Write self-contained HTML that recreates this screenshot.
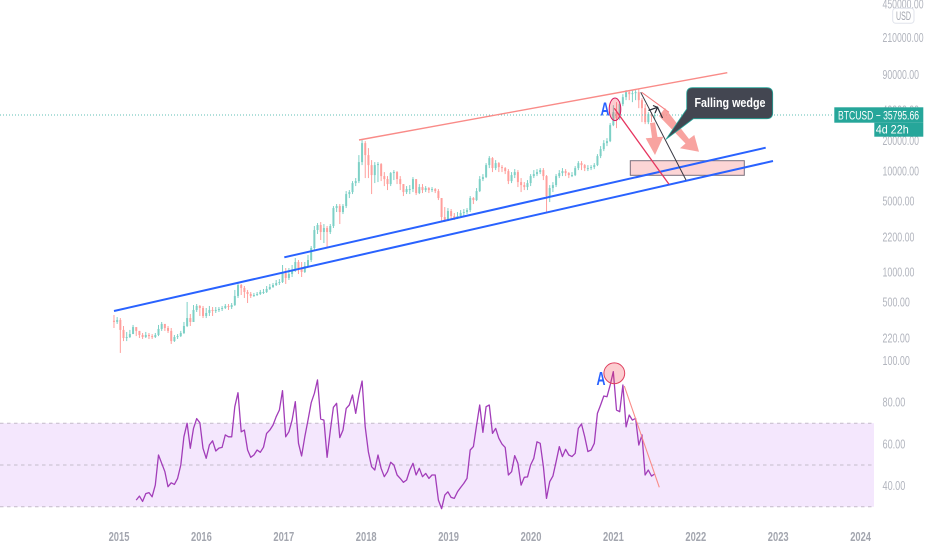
<!DOCTYPE html>
<html lang="en">
<head>
<meta charset="utf-8">
<title>BTCUSD chart</title>
<style>
html,body{margin:0;padding:0;background:#fff;width:932px;height:550px;overflow:hidden}
svg{display:block;font-family:"Liberation Sans",sans-serif;filter:blur(.35px)}
</style>
</head>
<body>
<svg id="chart" width="932" height="550" viewBox="0 0 932 550" xmlns="http://www.w3.org/2000/svg">
  <rect x="0" y="0" width="932" height="550" fill="#fff"/>
  <g id="rsi-bg"></g>
  <g id="candles"></g>
  <line x1="0" y1="115" x2="834" y2="115" stroke="#5fbfb4" stroke-width="1" stroke-dasharray="1 2"/>
  <g>
    <line x1="359" y1="140" x2="727.3" y2="72.7" stroke="#f98b88" stroke-width="1.4"/>
    <rect x="630.3" y="160.7" width="114" height="14.6" fill="#fcd5d5" stroke="#7a6f7c" stroke-width="1"/>
    <line x1="114" y1="311" x2="773" y2="161" stroke="#2962ff" stroke-width="2"/>
    <line x1="284.3" y1="257.3" x2="765.7" y2="147.7" stroke="#2962ff" stroke-width="2"/>
    <ellipse cx="615" cy="109.3" rx="5.8" ry="11.3" fill="#f23645" fill-opacity=".25" stroke="#d81b60" stroke-width="1"/>
    <line x1="614.3" y1="108.3" x2="669" y2="184.3" stroke="#e6355f" stroke-width="1.3"/>
    <line x1="640.7" y1="92.3" x2="686" y2="180" stroke="#3a3a44" stroke-width="1"/>
    <line x1="641.7" y1="92.3" x2="669" y2="112.3" stroke="#f77c80" stroke-width="1"/>
    <polygon points="650,123 655,122.5 657.5,137 663.3,136.7 655,155 645.7,138.3 652,137.8" fill="#f7938f" fill-opacity=".85"/>
    <polygon points="659,116 665,108 689,139 694.3,135 699,151.7 680,148.3 685.5,143.5" fill="#f7938f" fill-opacity=".85"/>
    <polyline points="648.5,110.5 657.5,107.3 662.5,118" fill="none" stroke="#2a2e39" stroke-width="1.2"/>
    <polyline points="653,105.5 657.5,107.3 655,113" fill="none" stroke="#2a2e39" stroke-width="1.2"/>
    <text x="600.5" y="115.5" font-size="18" font-weight="700" fill="#2962ff" textLength="9" lengthAdjust="spacingAndGlyphs">A</text>
    <path d="M692.7 87.7H766.7Q772.7 87.7 772.7 93.7V112.7Q772.7 118.7 766.7 118.7H693.5L666 139.3L686.7 109V93.7Q686.7 87.7 692.7 87.7Z" fill="#434651" stroke="#26a69a" stroke-width=".8"/>
    <text x="694.5" y="106.8" font-size="12.5" font-weight="700" fill="#fff" textLength="71" lengthAdjust="spacingAndGlyphs">Falling wedge</text>
  </g>
  <g id="rsi-series"></g>
  <g>
    <line x1="624.3" y1="386" x2="659.3" y2="487.3" stroke="#f98b88" stroke-width="1.1"/>
    <circle cx="614.3" cy="373.3" r="10.4" fill="#f23645" fill-opacity=".25" stroke="#e0405f" stroke-width="1"/>
    <text x="596.5" y="384.8" font-size="18" font-weight="700" fill="#2962ff" textLength="9" lengthAdjust="spacingAndGlyphs">A</text>
  </g>
  <g id="price-axis"></g>
  <g id="rsi-axis"></g>
  <g id="time-axis"></g>
  <g>
    <rect x="892.7" y="8.3" width="21.3" height="15" rx="3" fill="#fff" stroke="#e0e3eb"/>
    <text x="896" y="20" font-size="11.5" fill="#a3a6af" textLength="15" lengthAdjust="spacingAndGlyphs">USD</text>
  </g>
  <g>
    <rect x="834.3" y="107.3" width="89" height="15.4" fill="#26a69a"/>
    <rect x="874.3" y="122.7" width="49" height="14" fill="#26a69a"/>
    <text x="838" y="119.3" font-size="12" fill="#fff" textLength="81" lengthAdjust="spacingAndGlyphs">BTCUSD − 35795.66</text>
    <text x="875.7" y="133.5" font-size="12" fill="#fff" textLength="33" lengthAdjust="spacingAndGlyphs">4d 22h</text>
  </g>
</svg>
<script>
const closes = [320,335,267,222,227,243,285,261,238,227,238,232,227,238,273,306,279,261,207,227,232,249,292,350,320,421,461,440,367,393,421,411,421,430,440,461,450,471,579,744,695,634,606,579,592,606,634,634,679,711,744,778,796,977,872,955,1046,1256,1095,1000,1146,1314,1728,2603,2918,2487,2725,2487,2852,4297,4497,3923,4497,5911,6186,7593,7947,12251,18885,14370,11440,9111,11440,11706,8906,8318,7423,9535,9756,8318,7423,6186,6624,6624,8318,6047,6932,6475,6776,6475,6624,6329,5396,3501,3196,4014,3581,3422,3581,3835,3923,4106,5396,5156,6329,8318,8705,11440,13420,10686,11975,10930,10686,9980,7947,9111,9756,7769,7255,6932,7593,8906,9321,9756,10210,8906,5648,6776,7255,8906,9535,9980,9535,9111,9111,10686,11975,11440,10686,10686,10930,11440,14045,16470,18885,19765,28460,38260,33370,45910,53860,60350,57660,58990,60350,50300,41900,30470,36560,34930,35796];
const highs = [375,358,350,292,255,267,299,273,261,249,255,249,243,249,299,320,306,292,279,238,243,261,320,505,384,471,482,471,461,440,461,450,450,450,461,482,482,493,664,796,761,727,664,634,620,634,664,679,727,761,778,833,852,1173,1095,1095,1173,1376,1314,1256,1256,1473,1808,2852,3054,3124,2985,2852,2985,4497,4707,4707,4707,6329,6475,7947,8510,14370,20221,19765,16853,12822,12251,12251,11975,9756,8906,9756,10210,9980,8906,7423,7092,7255,8705,8318,7423,7423,7092,6932,6932,6776,6624,5396,4396,4297,4201,3835,3923,4106,4201,4297,5648,5520,6776,8906,9321,11975,14045,13725,12822,12251,11440,10930,10445,9756,10445,10210,8510,7769,8131,9321,10210,10445,10686,10686,9111,7255,7769,9321,10210,10686,10445,9756,9756,11184,12530,12530,11706,11440,11440,11975,14700,17638,20221,21160,29800,44870,48050,49170,57660,63170,61750,63170,63170,64610,52640,45910,38260,38260,37410];
const lows = [279,306,158,207,207,222,243,232,222,217,222,217,217,222,232,261,261,249,194,203,217,227,243,285,292,320,402,367,350,350,367,367,393,402,411,430,421,430,461,553,592,553,493,553,566,579,592,606,620,664,695,727,744,778,761,833,892,1000,955,892,977,1120,1256,1651,2377,2073,1937,1768,2377,2725,3923,2985,3748,4297,5396,5911,7092,7593,11440,8510,8510,5911,7593,7769,7947,7092,6475,7092,8131,7423,6475,5648,5911,5911,6186,5778,5911,6047,6186,6047,6186,6047,5156,3196,3124,3196,3345,3270,3345,3422,3581,3748,3923,4707,5040,6186,7947,8510,10686,9756,10210,9756,9756,9321,7423,7593,8510,6932,6186,6475,6475,7092,8510,8906,9321,8131,3923,4926,6186,6932,8510,8906,8906,8510,8705,8906,10210,10210,9980,9980,10210,10445,11184,13420,15740,17638,19321,27810,26570,31880,43870,50300,50300,48050,50300,41900,30470,29110,29110,30470,32620];
const rsiValues = [33.2,35.1,32.6,36.3,36.8,34.8,40.4,54.8,50.8,46.8,39.6,41.5,40.7,43.6,50,63.5,70,58,67.5,72.2,70.2,58,53.2,59.6,61.6,56.7,58.1,58.4,64.4,63.5,63.5,77.9,84.6,65.9,66.7,57.2,53.7,54.8,57.2,56.1,58.5,65.1,66.7,69.1,73.1,76.3,85.6,63.5,65.9,71.5,80.3,60.4,54.3,63.5,71.5,79.8,84.3,90.7,72,71.5,53.7,66.4,77.6,79.5,63.1,66.7,77.1,78.7,83.5,74.7,83.5,90.2,68.3,56.2,49.2,47.6,54.8,48.4,44.4,46.8,51.3,50,45.2,43.6,41.7,42.8,47.6,50.8,45.2,48.4,44.4,46,43.6,45.2,45.2,33.2,29.1,35.6,37.2,34.5,34,37.2,39.3,41.2,43.6,57.2,58.8,69.1,78.7,65.6,77.9,78.7,65.1,67.5,62.8,60,58.4,45.2,46.8,54.5,50.8,40.4,44.1,44.3,50,53.2,61.1,60.4,49.2,34,42,44.7,51.6,58.8,54,57.5,54.8,54,55.6,67.5,69.6,63.6,56.4,57.2,60.4,74.7,78.7,83,82.7,88.3,94.7,76.3,75.5,88.3,68.3,73.9,71.5,72.3,59.5,64.4,45.2,47.6,44.7,45.7];
const priceTicks = [450000,210000,90000,40000,20000,10000,5000,2200,1000,500,220];
const rsiTicks = [100,80,60,40];
const rsiLevels = [70,50,30];
const yearTicks = [2015,2016,2017,2018,2019,2020,2021,2022,2023,2024];

const SVG_NS = 'http://www.w3.org/2000/svg';
const FIRST_BAR_YEAR = 2014.939;
const YEARS_PER_BAR = 0.0386;
const RSI_BAR_OFFSET = 7;

function xOfYear(year) { return 119 + (year - 2015) * 82.4; }
function xOfBar(i) { return xOfYear(FIRST_BAR_YEAR + i * YEARS_PER_BAR); }
function yOfPrice(p) { return 272 - (Math.log10(p) - 3) * 101; }
function yOfRsi(v) { return 360.5 + (100 - v) * 2.09; }

function make(tag, attrs) {
  const el = document.createElementNS(SVG_NS, tag);
  for (const k in attrs) el.setAttribute(k, attrs[k]);
  return el;
}

/* candles */
const candleLayer = document.getElementById('candles');
closes.forEach(function (close, i) {
  const open = i === 0 ? close * 1.03 : closes[i - 1];
  const up = close >= open;
  const color = up ? '#7dd0c6' : '#ff9f9c';
  const x = xOfBar(i);
  const g = make('g', {});
  
  
  const wick = make('line', { x1: x, x2: x, y1: yOfPrice(highs[i]), y2: yOfPrice(lows[i]), stroke: color, 'stroke-width': 1 });
  
  
  const top = yOfPrice(Math.max(open, close));
  const bottom = yOfPrice(Math.min(open, close));
  const body = make('rect', { x: x - 1, y: top, width: 2, height: Math.max(1, bottom - top), fill: color });
  
  
  g.appendChild(wick);
  g.appendChild(body);
  candleLayer.appendChild(g);
});

/* RSI background + levels */
const rsiBg = document.getElementById('rsi-bg');
const band = make('rect', { x: 0, y: yOfRsi(70), width: 874, height: yOfRsi(30) - yOfRsi(70), fill: '#f4e7fd' });


rsiBg.appendChild(band);
rsiLevels.forEach(function (level) {
  const l = make('line', { x1: 0, x2: 874, y1: yOfRsi(level), y2: yOfRsi(level), stroke: '#c4bcca', 'stroke-width': 1, 'stroke-dasharray': '3.5 3.5' });
  
  
  rsiBg.appendChild(l);
});

/* RSI line */
const rsiLine = make('polyline', {
  points: rsiValues.map(function (v, i) { return xOfBar(i + RSI_BAR_OFFSET).toFixed(1) + ',' + yOfRsi(v).toFixed(1); }).join(' '),
  fill: 'none', stroke: '#a23db9', 'stroke-width': 1.3, 'stroke-linejoin': 'round'
});


document.getElementById('rsi-series').appendChild(rsiLine);

/* axes */
function label(parent, text, x, y, fill, width, weight) {
  const t = make('text', { x: x, y: y + 4.3, 'font-size': 12.5, 'font-weight': weight, fill: fill, textLength: width, lengthAdjust: 'spacingAndGlyphs' });
  t.textContent = text;
  parent.appendChild(t);
  return t;
}
const priceAxis = document.getElementById('price-axis');
priceTicks.forEach(function (p) {
  const s = p.toFixed(2);
  const t = label(priceAxis, s, 882.5, yOfPrice(p), '#b2b5be', s.length * 4.56, 400);
  
  
});
const rsiAxis = document.getElementById('rsi-axis');
rsiTicks.forEach(function (v) {
  const s = v.toFixed(2);
  const t = label(rsiAxis, s, 882.5, yOfRsi(v), '#b2b5be', s.length * 4.56, 400);
  
  
});
const timeAxis = document.getElementById('time-axis');
yearTicks.forEach(function (yr) {
  const t = label(timeAxis, String(yr), xOfYear(yr) - 10.4, 536.5, '#a3a6af', 20.8, 700);
  
  
});
</script>
</body>
</html>
